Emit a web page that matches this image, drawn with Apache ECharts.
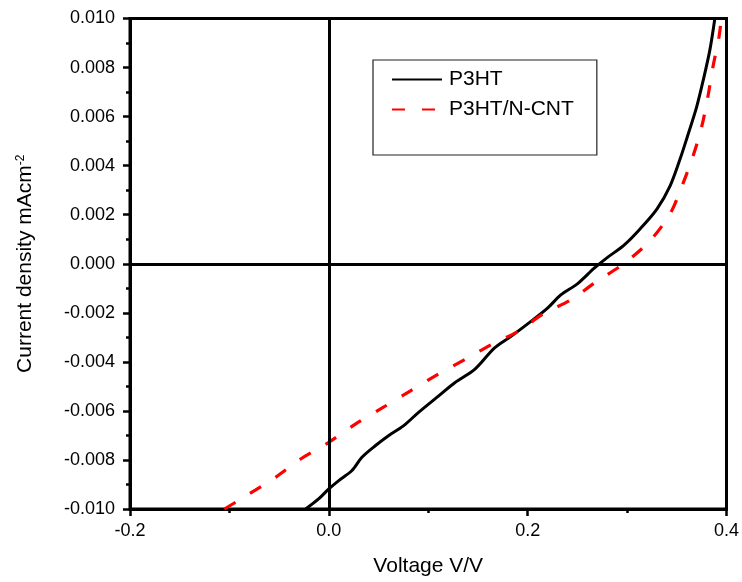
<!DOCTYPE html>
<html>
<head>
<meta charset="utf-8">
<script src="https://cdn.jsdelivr.net/npm/echarts@6/dist/echarts.min.js"></script>
<style>
html,body{margin:0;padding:0;background:#fff;}
#chart{width:742px;height:582px;}
</style>
</head>
<body>
<div id="chart"></div>
<script>
// Data
const p3htX = [-0.0233,-0.010,0.0,0.010,0.0233,0.0333,0.0467,0.060,0.075,0.090,0.1083,0.1267,0.1467,0.1667,0.1833,0.2033,0.220,0.2333,0.250,0.2667,0.280,0.2967,0.3133,0.330,0.3433,0.3533,0.360,0.370,0.3767,0.3833,0.3883];
const p3htY = [-0.0100,-0.00958,-0.00918,-0.00884,-0.00843,-0.00789,-0.00742,-0.00701,-0.00661,-0.00607,-0.00546,-0.00485,-0.00431,-0.00343,-0.00296,-0.00235,-0.00181,-0.00127,-0.00082,-0.00019,0.00025,0.00075,0.00143,0.00223,0.00318,0.00427,0.0051,0.0064,0.0075,0.00872,0.0100];
const cntX = [-0.105,-0.080,-0.0533,-0.0283,0.0,0.0267,0.0533,0.0817,0.1067,0.1367,0.1633,0.190,0.2167,0.2433,0.2667,0.2983,0.3233,0.3433,0.356,0.367,0.3755,0.3815,0.3865,0.3925,0.3945];
const cntY = [-0.0100,-0.00938,-0.0087,-0.00796,-0.00728,-0.00654,-0.00589,-0.00519,-0.00458,-0.00391,-0.0033,-0.00276,-0.00202,-0.00148,-0.0008,0.00005,0.00095,0.00204,0.00325,0.00447,0.00566,0.00686,0.00805,0.00926,0.0099];
const seriesNames = ['P3HT', 'P3HT/N-CNT'];
const xRange = [-0.2, 0.4];
const xStep = 0.2;
const yRange = [-0.010, 0.010];
const yStep = 0.002;

const FONT = 'Liberation Sans, Arial, sans-serif';
const pairs = (xs, ys) => xs.map((x, i) => [x, ys[i]]);

const chart = echarts.init(document.getElementById('chart'), null, {renderer: 'canvas'});
chart.setOption({
  animation: false,
  backgroundColor: '#fff',
  grid: {left: 130, right: 12, top: 18.5, bottom: 70, show: true, borderColor: '#000', borderWidth: 3},
  legend: {
    orient: 'vertical',
    left: 373, top: 60,
    padding: [9, 23, 35, 18],
    itemGap: 9,
    itemWidth: 50, itemHeight: 14,
    borderColor: '#222', borderWidth: 1.2,
    itemStyle: {opacity: 0},
    textStyle: {fontFamily: FONT, fontSize: 21, color: '#000', padding: [0, 0, 0, 2]},
    data: seriesNames
  },
  xAxis: {
    type: 'value', min: xRange[0], max: xRange[1], interval: xStep,
    name: 'Voltage V/V', nameLocation: 'middle', nameGap: 47,
    nameTextStyle: {fontFamily: FONT, fontSize: 21, color: '#000'},
    axisLine: {show: true, onZero: false, lineStyle: {color: '#000', width: 3}},
    axisTick: {show: true, inside: false, length: 7, lineStyle: {color: '#000', width: 2.5}},
    minorTick: {show: true, splitNumber: 2, length: 4, lineStyle: {color: '#000', width: 2.5}},
    splitLine: {show: false},
    axisLabel: {fontFamily: FONT, fontSize: 18, color: '#000', margin: 13,
      formatter: v => v.toFixed(1)}
  },
  yAxis: {
    type: 'value', min: yRange[0], max: yRange[1], interval: yStep,
    name: 'Current density mAcm{sup|-2}', nameLocation: 'middle', nameGap: 94, nameRotate: 90,
    nameTextStyle: {fontFamily: FONT, fontSize: 21, color: '#000',
      rich: {sup: {fontFamily: FONT, fontSize: 12, color: '#000', verticalAlign: 'top'}}},
    axisLine: {show: true, onZero: false, lineStyle: {color: '#000', width: 3}},
    axisTick: {show: true, inside: false, length: 7, lineStyle: {color: '#000', width: 2.5}},
    minorTick: {show: true, splitNumber: 2, length: 4, lineStyle: {color: '#000', width: 2.5}},
    splitLine: {show: false},
    axisLabel: {fontFamily: FONT, fontSize: 18, color: '#000', margin: 15,
      formatter: v => v.toFixed(3)}
  },
  series: [
    {
      name: seriesNames[0], type: 'line', data: pairs(p3htX, p3htY),
      symbol: 'none', showSymbol: false, smooth: 0.3,
      lineStyle: {color: '#000', width: 3},
      itemStyle: {color: '#000'},
      z: 3,
      markLine: {
        silent: true, symbol: ['none', 'none'], label: {show: false},
        lineStyle: {color: '#000', width: 3, type: 'solid'},
        emphasis: {disabled: true},
        data: [{xAxis: 0}, {yAxis: 0}]
      }
    },
    {
      name: seriesNames[1], type: 'line', data: pairs(cntX, cntY),
      symbol: 'none', showSymbol: false, smooth: 0.3,
      lineStyle: {color: '#ff0000', width: 3.2, type: [13, 17]},
      itemStyle: {color: '#ff0000'},
      z: 4
    }
  ]
});
</script>
</body>
</html>
